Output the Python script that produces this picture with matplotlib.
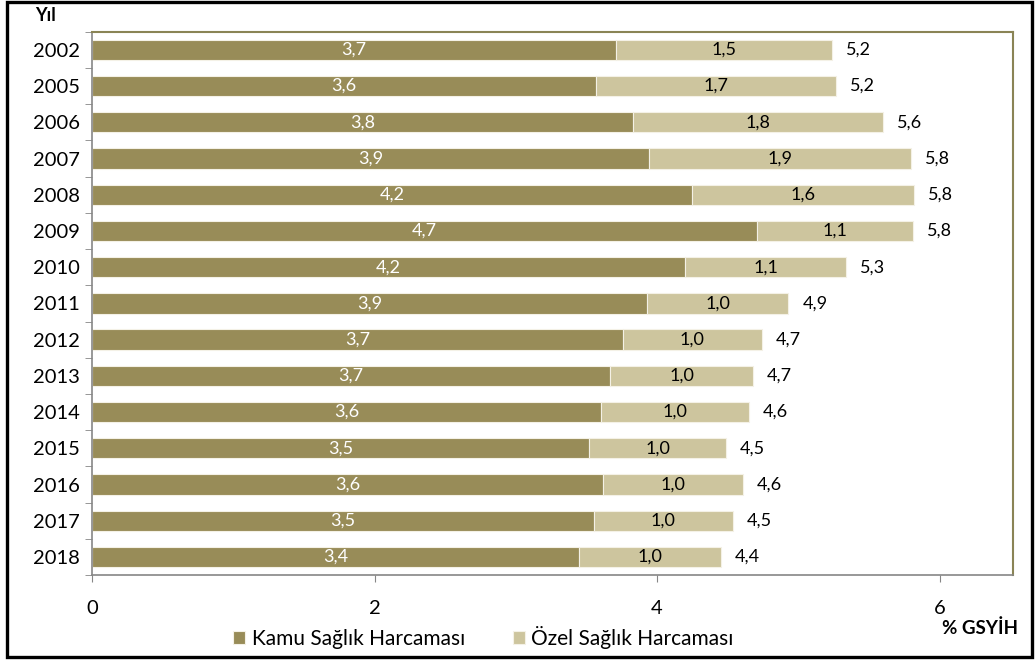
import matplotlib
matplotlib.use("Agg")
import matplotlib.pyplot as plt
from matplotlib.patches import Rectangle

plt.rcParams["font.family"] = ["Lato", "DejaVu Sans"]

YEARS = ["2002", "2005", "2006", "2007", "2008", "2009", "2010", "2011",
         "2012", "2013", "2014", "2015", "2016", "2017", "2018"]
# bar lengths (% of GDP)
KAMU = [3.71, 3.57, 3.83, 3.94, 4.25, 4.71, 4.20, 3.93,
        3.76, 3.67, 3.60, 3.52, 3.62, 3.55, 3.45]
OZEL = [1.53, 1.70, 1.77, 1.86, 1.57, 1.10, 1.14, 1.00,
        0.98, 1.01, 1.05, 0.97, 0.99, 0.99, 1.00]
# printed labels
KAMU_LBL = ["3,7", "3,6", "3,8", "3,9", "4,2", "4,7", "4,2", "3,9",
            "3,7", "3,7", "3,6", "3,5", "3,6", "3,5", "3,4"]
OZEL_LBL = ["1,5", "1,7", "1,8", "1,9", "1,6", "1,1", "1,1", "1,0",
            "1,0", "1,0", "1,0", "1,0", "1,0", "1,0", "1,0"]
TOPLAM_LBL = ["5,2", "5,2", "5,6", "5,8", "5,8", "5,8", "5,3", "4,9",
              "4,7", "4,7", "4,6", "4,5", "4,6", "4,5", "4,4"]

KAMU_COLOR = "#988c58"
OZEL_COLOR = "#cdc59e"

fig = plt.figure(figsize=(10.35, 6.61), dpi=100)
ax = fig.add_axes([0.0889, 0.130, 0.8899, 0.822])

y = list(range(len(YEARS)))
ax.barh(y, KAMU, height=0.56, color=KAMU_COLOR, edgecolor="#f4f1e6", linewidth=0.8,
        label="Kamu Sağlık Harcaması")
ax.barh(y, OZEL, left=KAMU, height=0.56, color=OZEL_COLOR, edgecolor="#f4f1e6",
        linewidth=0.8, label="Özel Sağlık Harcaması")

for i in y:
    ax.text(KAMU[i] / 2, i, KAMU_LBL[i], ha="center", va="center", color="white", fontsize=13)
    ax.text(KAMU[i] + OZEL[i] / 2, i, OZEL_LBL[i], ha="center", va="center", color="black",
            fontsize=13)
    ax.annotate(TOPLAM_LBL[i], (KAMU[i] + OZEL[i], i), xytext=(10, 0),
                textcoords="offset points", ha="left", va="center", fontsize=13)

ax.set_ylim(len(YEARS) - 0.5, -0.5)
ax.set_xlim(0, 6.52)
ax.set_xticks([0, 2, 4, 6])
ax.set_xticklabels(["0", "2", "4", "6"], fontsize=14.5)
ax.set_yticks(y)
ax.set_yticklabels(YEARS, fontsize=14.5)
ax.tick_params(axis="y", length=0, pad=9)
ax.set_yticks([i - 0.5 for i in y] + [len(YEARS) - 0.5], minor=True)
ax.tick_params(axis="y", which="minor", length=5, color="#868686", direction="out")
ax.tick_params(axis="x", length=5, color="#868686", direction="out", pad=13)

ax.spines["left"].set_color("#868686")
ax.spines["bottom"].set_color("#868686")
ax.spines["left"].set_linewidth(1.2)
ax.spines["bottom"].set_linewidth(1.2)
ax.spines["top"].set_color("#8a8455")
ax.spines["right"].set_color("#8a8455")
ax.spines["top"].set_linewidth(1.5)
ax.spines["right"].set_linewidth(1.5)

fig.text(0.044, 0.977, "Yıl", fontsize=13, fontweight="bold", ha="center", va="center")
fig.text(0.984, 0.050, "% GSYİH", fontsize=13.5, fontweight="bold", ha="right", va="center")

fig.legend(loc="center", bbox_to_anchor=(0.467, 0.036), ncol=2, frameon=False, fontsize=15,
           handlelength=0.6, handleheight=0.6, handletextpad=0.3, columnspacing=2.3)

# outer black frame
fig.patches.append(Rectangle((0.0065, 0.0065), 0.991, 0.991, transform=fig.transFigure,
                             fill=False, edgecolor="black", linewidth=2.4))

fig.savefig("out.png", dpi=100)
